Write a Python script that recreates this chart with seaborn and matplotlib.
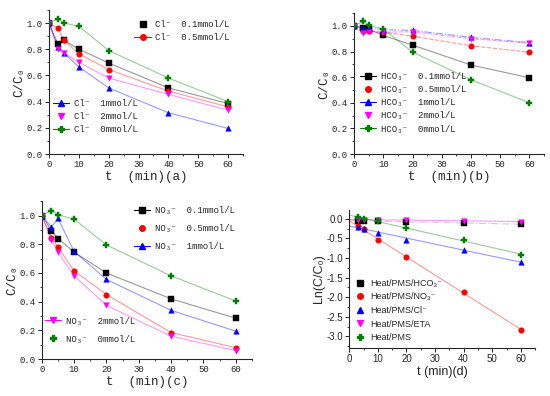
import matplotlib
matplotlib.use("Agg")
import matplotlib.pyplot as plt
from matplotlib.lines import Line2D
from matplotlib.ticker import MultipleLocator, FormatStrFormatter
import seaborn as sns

# time points (min)
t = [0, 3, 5, 10, 20, 40, 60]
t_d = [3, 5, 10, 20, 40, 60]

# (a) Cl- effect, C/C0
cl_01 = [1.0, 0.84, 0.87, 0.80, 0.695, 0.505, 0.385]
cl_05 = [1.0, 0.96, 0.87, 0.765, 0.645, 0.48, 0.36]
cl_1 = [1.0, 0.82, 0.77, 0.665, 0.505, 0.315, 0.195]
cl_2 = [1.0, 0.80, 0.77, 0.70, 0.58, 0.455, 0.335]
cl_0 = [1.0, 1.03, 1.00, 0.975, 0.79, 0.58, 0.40]

# (b) HCO3- effect
hco_01 = [1.0, 0.98, 0.975, 0.925, 0.85, 0.695, 0.595]
hco_05 = [1.0, 0.96, 0.96, 0.95, 0.92, 0.845, 0.795]
hco_1 = [1.0, 0.985, 0.985, 0.97, 0.965, 0.91, 0.87]
hco_2 = [1.0, 0.945, 0.95, 0.95, 0.955, 0.90, 0.865]
hco_0 = [1.0, 1.035, 1.005, 0.975, 0.795, 0.58, 0.40]

# (c) NO3- effect
no_01 = [1.0, 0.895, 0.84, 0.745, 0.60, 0.42, 0.285]
no_05 = [1.0, 0.845, 0.78, 0.615, 0.45, 0.185, 0.08]
no_1 = [1.0, 0.92, 0.98, 0.75, 0.555, 0.34, 0.195]
no_2 = [1.0, 0.83, 0.745, 0.58, 0.375, 0.16, 0.06]
no_0 = [1.0, 1.035, 1.005, 0.975, 0.795, 0.58, 0.405]

# (d) Ln(C/C0) kinetics
ln_hco = [-0.05, -0.05, -0.06, -0.07, -0.10, -0.14]
ln_no = [-0.17, -0.27, -0.55, -0.98, -1.86, -2.84]
ln_cl = [-0.20, -0.25, -0.35, -0.53, -0.79, -1.10]
ln_eta = [-0.02, -0.02, -0.03, -0.02, -0.05, -0.07]
ln_pms = [0.04, 0.0, -0.05, -0.24, -0.55, -0.91]

colors = ["black", "red", "blue", "magenta", "green"]
markers = ["s", "o", "^", "v", "P"]
conc = ["0.1mmol/L", "0.5mmol/L", "1mmol/L", "2mmol/L", "0mmol/L"]

sns.set_theme(style="ticks")
mono = ["Liberation Mono", "DejaVu Sans"]
plt.rcParams["font.family"] = mono
plt.rcParams["axes.linewidth"] = 0.8
plt.rcParams["axes.unicode_minus"] = False

fig = plt.figure(figsize=(5.5, 3.96), dpi=100)
ax_a = fig.add_axes([0.089, 0.611, 0.353, 0.364])
ax_b = fig.add_axes([0.644, 0.611, 0.345, 0.356])
ax_c = fig.add_axes([0.076, 0.093, 0.382, 0.399])
ax_d = fig.add_axes([0.635, 0.121, 0.338, 0.349])


def style_axes(ax, fam, size=6.5):
    sns.despine(ax=ax)
    ax.set_xlim(0, 65)
    ax.xaxis.set_major_locator(MultipleLocator(10))
    ax.xaxis.set_minor_locator(MultipleLocator(5))
    ax.tick_params(which="major", direction="out", length=3, width=0.7,
                   labelsize=size, pad=1.5)
    ax.tick_params(which="minor", direction="out", length=1.5, width=0.6)
    for lab in ax.get_xticklabels() + ax.get_yticklabels():
        lab.set_family(fam)


def conc_panel(ax, series, ion, lstyles, letter, leg_lines):
    for i, ys in enumerate(series):
        sns.lineplot(x=t, y=ys, ax=ax, color=colors[i], lw=0.8, alpha=0.4,
                     linestyle=lstyles[i])
        sns.scatterplot(x=t, y=ys, ax=ax, color=colors[i], marker=markers[i],
                        s=16, edgecolor=colors[i], linewidth=0.3, zorder=3)
    ax.set_ylim(0, 1.1)
    ax.yaxis.set_major_locator(MultipleLocator(0.2))
    ax.yaxis.set_minor_locator(MultipleLocator(0.1))
    ax.yaxis.set_major_formatter(FormatStrFormatter("%.1f"))
    style_axes(ax, mono)
    ax.set_ylabel("C/C₀", fontsize=9, labelpad=1)
    ax.set_xlabel("t  (min)(" + letter + ")", fontsize=9, labelpad=1)
    handles = []
    for i in range(5):
        handles.append(Line2D([], [], color=colors[i], marker=markers[i],
                              markersize=4,
                              lw=0.8 if leg_lines[i] else 0,
                              label=ion + "  " + conc[i]))
    return handles


leg_kw = dict(loc="upper left", frameon=False, fontsize=6.5, handlelength=1.8,
              borderpad=0, borderaxespad=0, handletextpad=0.5)

# (a)
h = conc_panel(ax_a, [cl_01, cl_05, cl_1, cl_2, cl_0], "Cl⁻",
               ["-"] * 5, "a", [False, True, True, False, True])
leg1 = ax_a.legend(handles=h[:2], bbox_to_anchor=(0.44, 0.93),
                   labelspacing=0.45, **leg_kw)
ax_a.add_artist(leg1)
ax_a.legend(handles=h[2:], bbox_to_anchor=(0.02, 0.38), labelspacing=0.45,
            **leg_kw)

# (b)
h = conc_panel(ax_b, [hco_01, hco_05, hco_1, hco_2, hco_0], "HCO₃⁻",
               ["-", "--", "-.", "--", "-"], "b",
               [True, False, True, False, True])
ax_b.legend(handles=h, bbox_to_anchor=(0.03, 0.58), labelspacing=0.45,
            **leg_kw)

# (c)
h = conc_panel(ax_c, [no_01, no_05, no_1, no_2, no_0], "NO₃⁻",
               ["-"] * 5, "c", [True, False, True, True, False])
leg1 = ax_c.legend(handles=h[:3], bbox_to_anchor=(0.44, 0.97),
                   labelspacing=1.0, **leg_kw)
ax_c.add_artist(leg1)
ax_c.legend(handles=h[3:], bbox_to_anchor=(0.015, 0.27), labelspacing=1.0,
            **leg_kw)

# (d)
sans = ["Liberation Sans", "DejaVu Sans"]
d_series = [ln_hco, ln_no, ln_cl, ln_eta, ln_pms]
d_labels = ["Heat/PMS/HCO₃⁻", "Heat/PMS/NO₃⁻", "Heat/PMS/Cl⁻",
            "Heat/PMS/ETA", "Heat/PMS"]
d_ls = ["-.", "-", "-", "-", "-"]
ax_d.set_xlim(0, 60)
for i, ys in enumerate(d_series):
    fit_color = "gray" if i == 0 else colors[i]
    sns.regplot(x=t_d, y=ys, ax=ax_d, scatter=False, ci=None, truncate=False,
                line_kws=dict(color=fit_color, lw=0.8, alpha=0.4,
                              linestyle=d_ls[i]))
for i, ys in enumerate(d_series):
    sns.scatterplot(x=t_d, y=ys, ax=ax_d, color=colors[i], marker=markers[i],
                    s=16, edgecolor=colors[i], linewidth=0.3, zorder=3)
ax_d.set_ylim(-3.3, 0.23)
ax_d.yaxis.set_major_locator(MultipleLocator(0.5))
ax_d.yaxis.set_minor_locator(MultipleLocator(0.25))
ax_d.yaxis.set_major_formatter(FormatStrFormatter("%.1f"))
style_axes(ax_d, sans, size=7)
ax_d.set_ylabel("Ln(C/C₀)", fontsize=9, family=sans, labelpad=1)
ax_d.set_xlabel("t (min)(d)", fontsize=9, family=sans, labelpad=1)
h = [Line2D([], [], color=colors[i], marker=markers[i], markersize=4, lw=0,
            label=d_labels[i]) for i in range(5)]
ax_d.legend(handles=h, loc="upper left", bbox_to_anchor=(0.03, 0.5),
            frameon=False, prop={"family": sans, "size": 6.5},
            handlelength=1.2, labelspacing=0.5, borderpad=0, borderaxespad=0,
            handletextpad=0.5)

fig.savefig("out.png", dpi=100, facecolor="white")
